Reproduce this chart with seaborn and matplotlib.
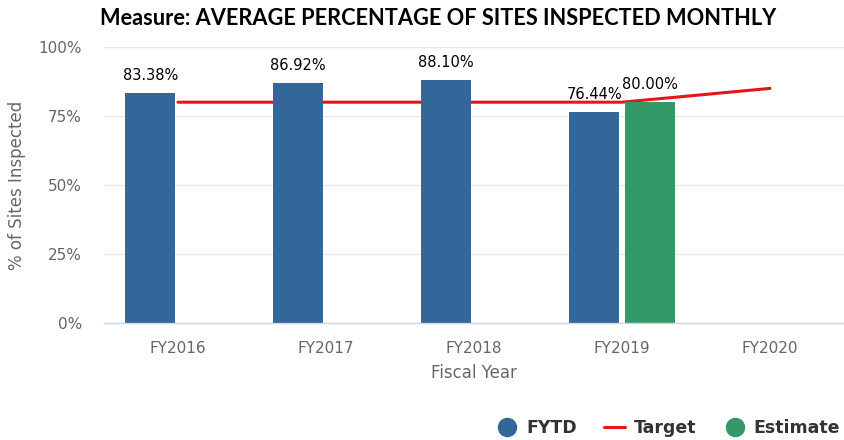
import numpy as np
import pandas as pd
import matplotlib
matplotlib.use("Agg")
import matplotlib.pyplot as plt
from matplotlib.lines import Line2D
import seaborn as sns

years = ["FY2016", "FY2017", "FY2018", "FY2019", "FY2020"]
fytd = [83.38, 86.92, 88.10, 76.44, np.nan]
estimate = [np.nan, np.nan, np.nan, 80.00, np.nan]
target = [80, 80, 80, 80, 85]

BLUE = "#336699"
GREEN = "#339966"
RED = "#e8141a"

sns.set_theme(style="white")
plt.rcParams["font.family"] = ["DejaVu Sans"]

df = pd.DataFrame({
    "year": years * 2,
    "series": ["FYTD"] * len(years) + ["Estimate"] * len(years),
    "value": fytd + estimate,
})

fig = plt.figure(figsize=(8.44, 4.40), dpi=100)
ax = fig.add_axes([104 / 844, (440 - 323) / 440, (844 - 104) / 844, (323 - 47) / 440])

# target line (behind bars)
tdf = pd.DataFrame({"pos": np.arange(len(years)), "target": target})
sns.lineplot(data=tdf, x="pos", y="target", ax=ax, color=RED, lw=2.2, zorder=1, legend=False)

sns.barplot(data=df, x="year", y="value", hue="series", order=years,
            hue_order=["FYTD", "Estimate"], palette=[BLUE, GREEN],
            width=0.75, dodge=True, saturation=1, ax=ax, legend=False,
            zorder=2, linewidth=0, gap=0.1)

for cont in ax.containers:
    labels = [("" if np.isnan(b.get_height()) else f"{b.get_height():.2f}%") for b in cont]
    ax.bar_label(cont, labels=labels, padding=7, fontsize=10.5, color="#000000")

ax.set_xlim(-0.5, -0.5 + (844 - 104) / 150.3)
ax.set_ylim(0, 100)
ax.set_yticks([0, 25, 50, 75, 100])
ax.set_yticklabels(["0%", "25%", "50%", "75%", "100%"])
ax.yaxis.grid(True, color="#e6e6e6", lw=1)
ax.set_axisbelow(True)
for s in ["top", "right", "left"]:
    ax.spines[s].set_visible(False)
ax.spines["bottom"].set_color("#ccd6eb")
ax.spines["bottom"].set_linewidth(1)

ax.set_xticks(np.arange(len(years)))
ax.set_xticklabels(years)
ax.set_xticks(np.arange(len(years) + 1) - 0.5, minor=True)
ax.tick_params(axis="x", which="major", length=0, pad=13, labelsize=11, labelcolor="#666666")
ax.tick_params(axis="x", which="minor", length=10, width=1, color="#ccd6eb", direction="out")
ax.tick_params(axis="y", length=0, pad=16, labelsize=11, labelcolor="#666666")

ax.set_xlabel("Fiscal Year", fontsize=12, color="#666666", labelpad=6)
ax.set_ylabel("% of Sites Inspected", fontsize=12, color="#666666", labelpad=9)

fig.text(0.519, 0.958, "Measure: AVERAGE PERCENTAGE OF SITES INSPECTED MONTHLY",
         ha="center", va="center", fontsize=15.7, fontweight="bold",
         family=["Lato", "DejaVu Sans"], color="#000000")

handles = [
    Line2D([], [], marker="o", ls="none", color=BLUE, markersize=13),
    Line2D([], [], color=RED, lw=2.2),
    Line2D([], [], marker="o", ls="none", color=GREEN, markersize=13),
]
fig.legend(handles, ["FYTD", "Target", "Estimate"], loc="center right",
           bbox_to_anchor=(1.014, 0.027), ncol=3, frameon=False,
           prop={"weight": "bold", "size": 12.5}, labelcolor="#333333",
           handlelength=1.2, handletextpad=0.5, columnspacing=1.6)

fig.savefig("out.png", dpi=100)
